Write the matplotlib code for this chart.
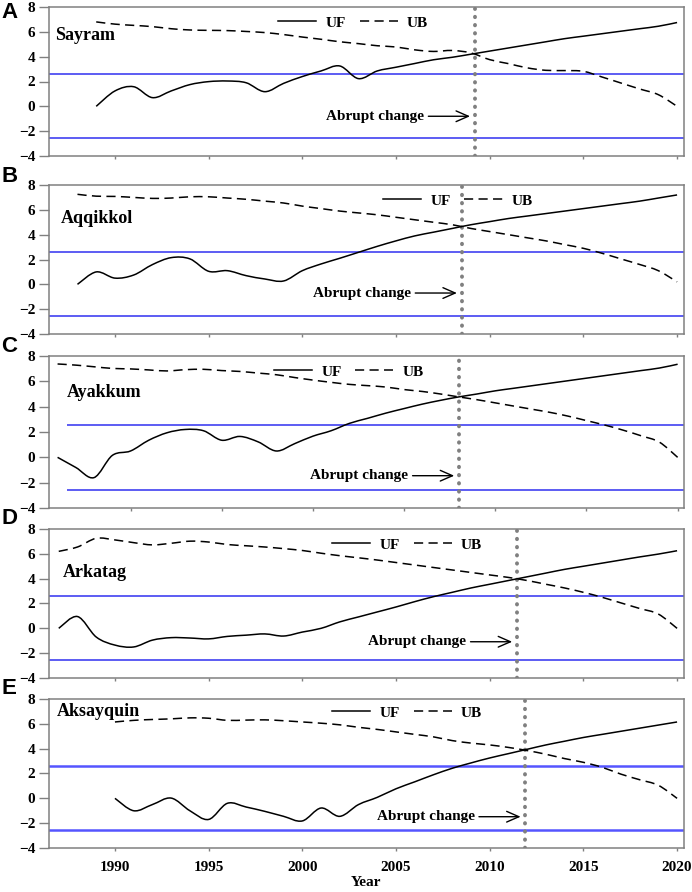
import matplotlib
matplotlib.use("Agg")
import matplotlib.pyplot as plt
import numpy as np
from matplotlib.path import Path
from matplotlib.patches import PathPatch
from matplotlib.lines import Line2D

# ---- data (Mann-Kendall UF / UB statistics) ----
stations = ["Sayram", "Aqqikkol", "Ayakkum", "Arkatag", "Aksayquin"]
panel_letters = ["A", "B", "C", "D", "E"]
start_years = [1989, 1988, 1986, 1987, 1990]
abrupt_years = [2009.2, 2008.5, 2008.0, 2011.45, 2011.9]

uf_sayram = [0.0, 1.24, 1.58, 0.7, 1.24, 1.75, 1.99, 2.04, 1.9, 1.18,
             1.85, 2.4, 2.85, 3.25, 2.23, 2.85, 3.15, 3.45, 3.75, 3.95,
             4.2, 4.45, 4.7, 4.95, 5.2, 5.45, 5.65, 5.85, 6.05, 6.25,
             6.45, 6.75]
ub_sayram = [6.8, 6.62, 6.52, 6.42, 6.25, 6.15, 6.12, 6.1, 6.03, 5.94,
             5.78, 5.58, 5.4, 5.2, 5.05, 4.88, 4.78, 4.55, 4.42, 4.5,
             4.3, 3.76, 3.44, 3.1, 2.9, 2.88, 2.82, 2.36, 1.88, 1.4,
             0.94, 0.0]

uf_aqqikkol = [0.0, 1.0, 0.5, 0.75, 1.59, 2.15, 2.05, 1.05, 1.1, 0.7,
               0.43, 0.27, 1.1, 1.64, 2.1, 2.58, 3.06, 3.5, 3.9, 4.2,
               4.5, 4.8, 5.05, 5.3, 5.5, 5.7, 5.9, 6.1, 6.3, 6.5,
               6.7, 6.95, 7.2]
ub_aqqikkol = [7.25, 7.1, 7.08, 7.0, 6.92, 6.95, 7.05, 7.05, 6.95, 6.85,
               6.7, 6.55, 6.3, 6.1, 5.9, 5.75, 5.6, 5.4, 5.2, 5.0,
               4.8, 4.5, 4.25, 4.0, 3.75, 3.5, 3.2, 2.9, 2.5, 2.05,
               1.6, 1.1, 0.2]

uf_ayakkum = [0.0, -0.8, -1.6, 0.15, 0.5, 1.35, 1.94, 2.2, 2.1, 1.35,
              1.65, 1.22, 0.5, 1.08, 1.67, 2.1, 2.68, 3.08, 3.49, 3.85,
              4.2, 4.5, 4.77, 5.0, 5.25, 5.45, 5.65, 5.85, 6.05, 6.25,
              6.45, 6.65, 6.85, 7.05, 7.35]
ub_ayakkum = [7.37, 7.28, 7.15, 7.02, 6.98, 6.9, 6.82, 6.92, 6.95, 6.85,
              6.78, 6.65, 6.52, 6.3, 6.1, 5.92, 5.76, 5.66, 5.55, 5.35,
              5.2, 5.0, 4.77, 4.55, 4.3, 4.05, 3.8, 3.55, 3.25, 2.9,
              2.55, 2.15, 1.7, 1.2, 0.0]

uf_arkatag = [0.0, 0.95, -0.7, -1.35, -1.5, -0.95, -0.75, -0.78, -0.85, -0.65,
              -0.55, -0.45, -0.62, -0.3, 0.0, 0.52, 0.92, 1.32, 1.72, 2.15,
              2.55, 2.9, 3.25, 3.55, 3.85, 4.15, 4.45, 4.75, 5.0, 5.25,
              5.5, 5.75, 5.98, 6.25]
ub_arkatag = [6.2, 6.55, 7.25, 7.12, 6.9, 6.72, 6.85, 7.02, 6.95, 6.75,
              6.65, 6.55, 6.42, 6.27, 6.05, 5.85, 5.68, 5.5, 5.3, 5.1,
              4.9, 4.7, 4.5, 4.3, 4.1, 3.85, 3.55, 3.25, 2.9, 2.5,
              2.05, 1.6, 1.15, 0.0]

uf_aksayquin = [0.0, -1.0, -0.5, 0.02, -1.0, -1.7, -0.4, -0.7, -1.05, -1.45,
                -1.82, -0.78, -1.45, -0.5, 0.08, 0.77, 1.33, 1.9, 2.42, 2.85,
                3.25, 3.6, 3.95, 4.3, 4.6, 4.9, 5.15, 5.4, 5.65, 5.9,
                6.15]
ub_aksayquin = [6.15, 6.28, 6.35, 6.4, 6.48, 6.45, 6.28, 6.3, 6.32, 6.25,
                6.15, 6.05, 5.92, 5.72, 5.55, 5.35, 5.15, 4.95, 4.65, 4.45,
                4.3, 4.1, 3.85, 3.55, 3.2, 2.9, 2.5, 1.95, 1.5, 1.05,
                0.0]

uf_all = [uf_sayram, uf_aqqikkol, uf_ayakkum, uf_arkatag, uf_aksayquin]
ub_all = [ub_sayram, ub_aqqikkol, ub_ayakkum, ub_arkatag, ub_aksayquin]
crit = 2.58
yticks = [-4, -2, 0, 2, 4, 6, 8]
xticks = [1990, 1995, 2000, 2005, 2010, 2015, 2020]

# ---- layout (figure fractions) ----
W, H = 692, 892
ax_left, ax_width = 49 / W, 635 / W
ax_rows = [(7, 156), (185, 334), (356, 508), (529, 678), (699, 848)]
xlims = [(1986.48, 2020.37), (1986.48, 2020.37), (1985.53, 2020.35),
         (1986.48, 2020.37), (1986.48, 2020.37)]
legend_pos = [(0.479, 0.893), (0.644, 0.893), (0.472, 0.897),
              (0.564, 0.893), (0.564, 0.908)]
name_pos = [(0.009, 0.812), (0.018, 0.778), (0.028, 0.763),
            (0.022, 0.711), (0.013, 0.915)]
abrupt_y = [-0.8, -0.7, -1.45, -1.08, -1.48]
letter_y = [12, 176, 346, 518, 688]

serif = "Liberation Serif"
gray = "#808080"


def smooth_path(x, y):
    # Catmull-Rom curve through the data points, drawn as cubic Beziers
    n = len(x)
    verts = [(x[0], y[0])]
    codes = [Path.MOVETO]
    for i in range(n - 1):
        i0 = max(i - 1, 0)
        i3 = min(i + 2, n - 1)
        c1 = (x[i] + (x[i + 1] - x[i0]) / 6.0, y[i] + (y[i + 1] - y[i0]) / 6.0)
        c2 = (x[i + 1] - (x[i3] - x[i]) / 6.0, y[i + 1] - (y[i3] - y[i]) / 6.0)
        verts += [c1, c2, (x[i + 1], y[i + 1])]
        codes += [Path.CURVE4] * 3
    return Path(verts, codes)


fig = plt.figure(figsize=(W / 100, H / 100), dpi=100)

for k in range(5):
    top, bot = ax_rows[k]
    ax = fig.add_axes([ax_left, 1 - bot / H, ax_width, (bot - top) / H])
    uf = np.array(uf_all[k])
    ub = np.array(ub_all[k])
    years = np.arange(start_years[k], start_years[k] + len(uf))

    # critical lines
    blue = "#5555ff" if k == 4 else "#3030f0"
    blw = 1.8 if k == 4 else 1.1
    if k == 2:
        ax.hlines([crit, -crit], 1986.5, xlims[k][1], color=blue, lw=blw, zorder=1)
    else:
        ax.axhline(crit, color=blue, lw=blw, zorder=1)
        ax.axhline(-crit, color=blue, lw=blw, zorder=1)

    ax.add_patch(PathPatch(smooth_path(years, uf), fill=False, edgecolor="black",
                           lw=1.1, zorder=3))
    ax.add_patch(PathPatch(smooth_path(years, ub), fill=False, edgecolor="black",
                           lw=1.1, linestyle=(0, (6, 3.5)), zorder=3))

    ax.axvline(abrupt_years[k], color=gray, lw=2.8, linestyle=(0, (0.1, 2.0)),
               dash_capstyle="round", zorder=2)

    ax.annotate("Abrupt change", xy=(abrupt_years[k] - 0.25, abrupt_y[k]),
                xytext=(-33, 0), textcoords="offset points",
                ha="right", va="center", fontsize=11, fontweight="bold",
                family=serif,
                arrowprops=dict(arrowstyle="->,head_length=0.8,head_width=0.35",
                                lw=1.0, color="black", shrinkA=1, shrinkB=0))

    ax.text(name_pos[k][0], name_pos[k][1], stations[k], transform=ax.transAxes,
            ha="left", va="center", fontsize=13, fontweight="bold", family=serif)

    handles = [Line2D([], [], color="black", lw=1.1),
               Line2D([], [], color="black", lw=1.1, linestyle=(0, (6, 3.5)))]
    ax.legend(handles, ["UF", "UB"], loc="center", bbox_to_anchor=legend_pos[k],
              ncol=2, frameon=False, handlelength=2.5, handletextpad=0.6,
              columnspacing=0.9, borderpad=0.1,
              prop=dict(family=serif, weight="bold", size=11))

    ax.set_xlim(*xlims[k])
    ax.set_ylim(-4, 8)
    ax.set_yticks(yticks)
    ax.set_xticks(xticks)
    for s in ax.spines.values():
        s.set_color(gray)
        s.set_linewidth(1.1)
    ax.tick_params(axis="y", direction="out", length=7, width=1.0, color=gray,
                   pad=3, labelsize=11)
    ax.tick_params(axis="x", direction="out", length=2.5, width=1.0, color=gray,
                   pad=7, labelsize=11)
    for lab in ax.get_yticklabels() + ax.get_xticklabels():
        lab.set_family(serif)
        lab.set_fontweight("bold")
    if k < 4:
        ax.set_xticklabels([])
    else:
        ax.set_xlabel("Year", family=serif, fontweight="bold", fontsize=11,
                      labelpad=1)

    fig.text(0.002, 1 - letter_y[k] / H, panel_letters[k], ha="left", va="center",
             fontsize=16, fontweight="bold", family="Liberation Sans")

fig.savefig("out.png", dpi=100)
